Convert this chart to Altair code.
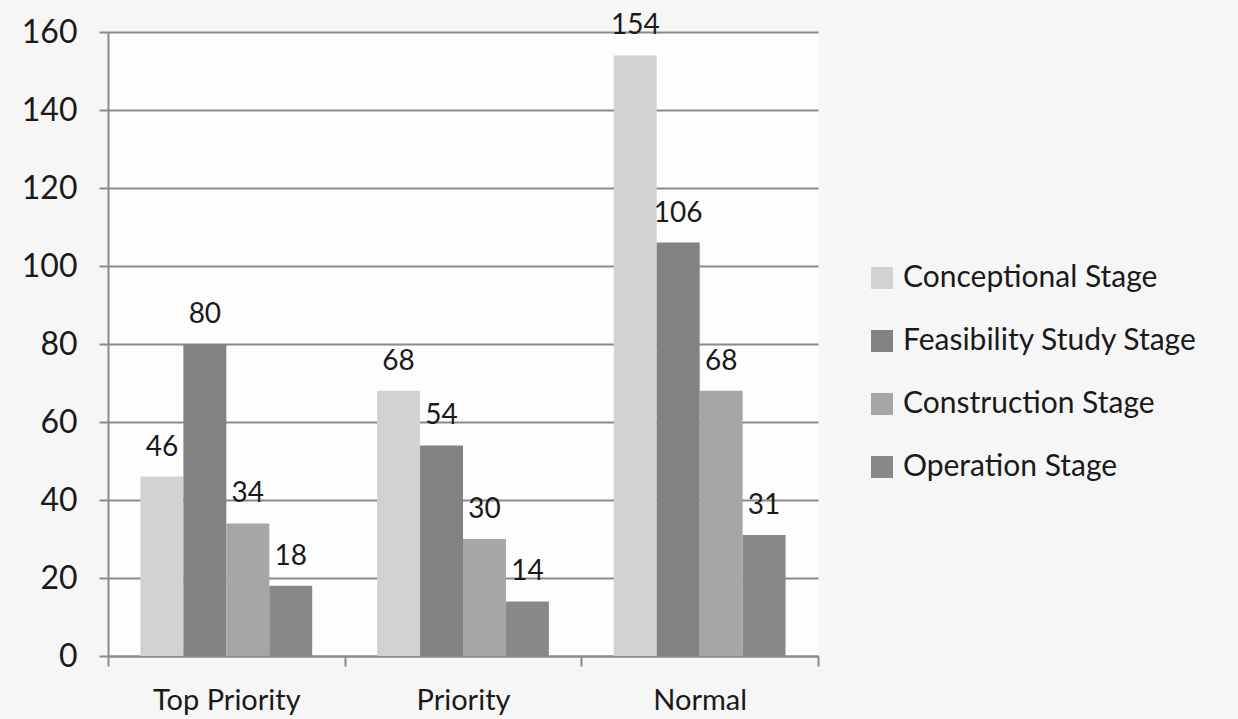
import altair as alt
import pandas as pd

# Project counts by priority class and development stage
categories = ["Top Priority", "Priority", "Normal"]
stages = ["Conceptional Stage", "Feasibility Study Stage", "Construction Stage", "Operation Stage"]
conceptional = [46, 68, 154]
feasibility = [80, 54, 106]
construction = [34, 30, 68]
operation = [18, 14, 31]
stage_colors = ["#d2d2d2", "#828282", "#a6a6a6", "#888888"]

series = [conceptional, feasibility, construction, operation]
rows = []
for stage, values in zip(stages, series):
    for cat, v in zip(categories, values):
        rows.append({"category": cat, "stage": stage, "count": v})
df = pd.DataFrame(rows)

FONT = "Lato"

x_enc = alt.X(
    "category:N",
    sort=categories,
    title=None,
    scale=alt.Scale(paddingInner=0, paddingOuter=0),
    axis=alt.Axis(
        labelAngle=0,
        labelFontSize=29,
        labelFont=FONT,
        labelColor="#1a1a1a",
        labelPadding=20,
        tickBand="extent",
        tickSize=10,
        tickColor="#8a8a8a",
        tickWidth=2,
        domainColor="#8a8a8a",
        domainWidth=2,
        grid=False,
    ),
)
xoff_enc = alt.XOffset(
    "stage:N",
    sort=stages,
    scale=alt.Scale(paddingInner=0, paddingOuter=0.756),
)
y_enc = alt.Y(
    "count:Q",
    title=None,
    scale=alt.Scale(domain=[0, 160]),
    axis=alt.Axis(
        values=list(range(0, 161, 20)),
        labelFontSize=32,
        labelFont=FONT,
        labelColor="#1a1a1a",
        labelPadding=22,
        tickSize=9,
        tickColor="#8a8a8a",
        tickWidth=2,
        domainColor="#8a8a8a",
        domainWidth=2,
        gridColor="#8a8a8a",
        gridWidth=2,
    ),
)

bars = alt.Chart(df).mark_bar().encode(
    x=x_enc,
    xOffset=xoff_enc,
    y=y_enc,
    color=alt.Color(
        "stage:N",
        sort=stages,
        scale=alt.Scale(domain=stages, range=stage_colors),
        legend=alt.Legend(
            title=None,
            orient="none",
            legendX=759,
            legendY=231,
            symbolType="square",
            symbolSize=484,
            symbolStrokeWidth=0,
            symbolOpacity=1,
            labelFontSize=30,
            labelFont=FONT,
            labelColor="#1a1a1a",
            labelOffset=6,
            rowPadding=33,
            labelLimit=400,
        ),
    ),
)

labels = alt.Chart(df).mark_text(
    font=FONT, fontSize=28, color="#1a1a1a", baseline="alphabetic", dy=-21
).encode(
    x=alt.X("category:N", sort=categories),
    xOffset=alt.XOffset("stage:N", sort=stages),
    y="count:Q",
    text="count:Q",
)

chart = (
    alt.layer(bars, labels)
    .properties(
        width=710,
        height=624,
        autosize=alt.AutoSizeParams(type="none"),
        padding={"left": 108, "top": 32, "right": 420, "bottom": 63},
        background="#f6f6f6",
    )
    .configure_view(stroke=None, fill="#fdfdfd")
)

chart.save("out.html", embed_options={"renderer": "svg", "actions": False})
